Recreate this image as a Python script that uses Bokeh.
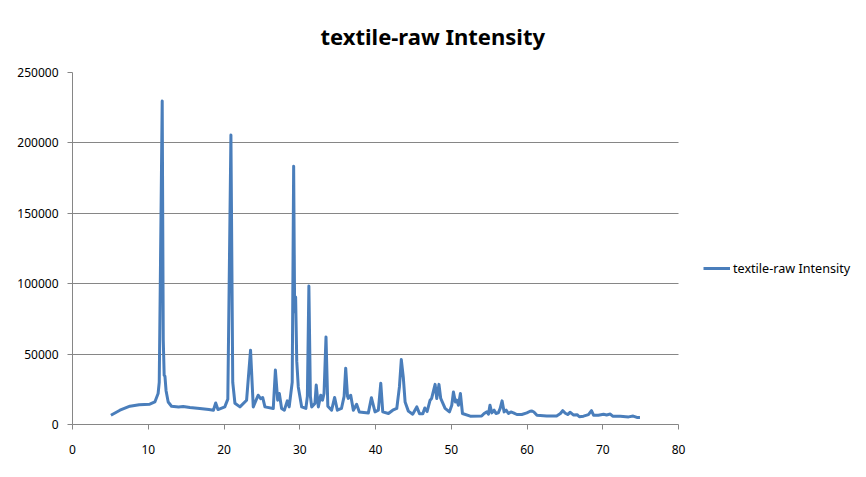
from bokeh.plotting import figure
from bokeh.models import Range1d, FixedTicker, NumeralTickFormatter, Legend, LegendItem
from bokeh.embed import file_html
from bokeh.resources import INLINE

series_name = "textile-raw Intensity"
chart_title = "textile-raw Intensity"

two_theta = [
    5.07, 6.26, 7.58, 8.8, 10.2, 10.87, 11.3, 11.45, 11.84, 11.98, 12.1, 12.2, 12.35, 12.63, 13.07,
    14.0, 14.6, 15.5, 16.8, 18.0, 18.6, 18.9, 19.2, 20.1, 20.5, 20.91, 21.15, 21.44, 22.1, 22.98,
    23.5, 23.86, 24.5, 24.83, 25.1, 25.4, 26.5, 26.78, 27.08, 27.3, 27.6, 27.96, 28.35, 28.6,
    29.0, 29.19, 29.32, 29.45, 29.6, 29.8, 30.25, 30.8, 31.0, 31.2, 31.4, 31.57, 32.0, 32.17,
    32.45, 32.76, 33.0, 33.2, 33.46, 33.7, 34.2, 34.6, 34.96, 35.5, 35.85, 36.06, 36.3, 36.4,
    36.72, 37.07, 37.5, 37.86, 39.05, 39.45, 39.93, 40.37, 40.69, 40.95, 41.7, 42.27, 42.8,
    43.15, 43.4, 43.67, 43.9, 44.33, 44.9, 45.44, 45.8, 46.24, 46.5, 46.8, 47.2, 47.4, 47.86,
    48.08, 48.37, 48.6, 49.18, 49.75, 50.06, 50.28, 50.54, 50.72, 50.94, 51.2, 51.47, 52.5,
    54.0, 54.33, 54.7, 54.9, 55.1, 55.35, 55.65, 55.9, 56.2, 56.45, 56.7, 56.97, 57.24, 57.54,
    57.86, 58.2, 58.65, 59.3, 59.97, 60.4, 60.65, 60.9, 61.3, 62.6, 63.9, 64.4, 64.7, 65.05,
    65.36, 65.7, 66.1, 66.6, 66.9, 67.45, 68.1, 68.5, 68.77, 69.4, 70.1, 70.5, 70.98, 71.3,
    72.3, 73.4, 74.0, 74.5, 74.9,
]
intensity = [
    6600, 10150, 13000, 14000, 14400, 16000, 22000, 30000, 229800, 60000, 35000, 34300, 24000, 16000, 13000,
    12500, 12800, 12000, 11400, 10600, 10150, 15300, 10600, 12500, 18000, 205600, 30000, 15100, 12500, 17250,
    52800, 12500, 20800, 18400, 19200, 12500, 11400, 38700, 17300, 22000, 11400, 10150, 16800, 12500,
    30000, 183400, 80000, 90600, 45000, 26700, 12500, 11400, 20000, 98400, 20000, 12500, 15000, 28000,
    12500, 20800, 17300, 22000, 62200, 13000, 10150, 19200, 10150, 11400, 20000, 40000, 20000, 18500,
    20800, 10150, 14400, 8950, 8250, 19000, 8950, 10150, 29300, 8950, 7800, 10150, 11400,
    26700, 46100, 33000, 16000, 9500, 7300, 12500, 7700, 7700, 11700, 9200, 17300, 18500, 28500,
    18500, 28500, 18500, 11400, 8950, 13700, 23100, 16000, 17300, 13700, 22000, 7800, 5900,
    6000, 7800, 8950, 7300, 13700, 8250, 10150, 7800, 8250, 11400, 16800, 8950, 10150, 7800,
    8950, 8250, 7100, 7100, 8250, 9400, 9600, 8900, 6600, 6100, 6100, 7800, 9800, 8000,
    7100, 8700, 6800, 7000, 5500, 5900, 7000, 9800, 6600, 6600, 7300, 6800, 7400, 5900,
    5900, 5400, 6000, 5000, 5000,
]

x_ticks = [0, 10, 20, 30, 40, 50, 60, 70, 80]
y_ticks = [0, 50000, 100000, 150000, 200000, 250000]
x_lo, x_hi = 0, 80
y_lo, y_hi = 0, 250000

FONT = "Noto Sans"
GRAY = "#868686"

# The frame runs to the right edge so the legend (drawn inside it) is not clipped;
# axis and grid are bounded to 0..80 so the plot area ends at x=80 like the reference.
p = figure(width=866, height=477, output_backend="svg", toolbar_location=None,
           x_range=Range1d(x_lo, 104.8), y_range=Range1d(y_lo, y_hi),
           min_border_left=72, min_border_right=0, min_border_top=72, min_border_bottom=53,
           title=chart_title)
p.outline_line_color = None
p.background_fill_color = "white"
p.border_fill_color = "white"

p.title.text_font = FONT
p.title.text_font_size = "22px"
p.title.text_font_style = "bold"
p.title.text_color = "#000000"
p.title.align = "left"
p.title.offset = 248
p.title.vertical_align = "top"
p.title.text_line_height = 1.08
p.title.standoff = 40

p.xgrid.visible = False
p.ygrid.grid_line_color = GRAY
p.ygrid.grid_line_width = 1
p.ygrid.cross_bounds = (x_lo, x_hi)

for ax in (p.xaxis, p.yaxis):
    ax.axis_line_color = GRAY
    ax.major_tick_line_color = GRAY
    ax.minor_tick_line_color = None
    ax.major_tick_in = 0
    ax.major_tick_out = 5
    ax.major_label_text_font = FONT
    ax.major_label_text_font_size = "12px"
    ax.major_label_text_color = "#000000"

p.xaxis.bounds = (x_lo, x_hi)
p.xaxis.ticker = FixedTicker(ticks=x_ticks)
p.yaxis.ticker = FixedTicker(ticks=y_ticks)
p.yaxis.formatter = NumeralTickFormatter(format="0")
p.xaxis.major_label_standoff = 15
p.yaxis.major_label_standoff = 9

r = p.line(two_theta, intensity, line_color="#4A7EBB", line_width=3, line_join="round")

legend = Legend(items=[LegendItem(label=series_name, renderers=[r])],
                location=(631, 146), padding=0, margin=0,
                border_line_color=None, background_fill_alpha=0,
                glyph_width=27, glyph_height=20, label_standoff=3,
                label_text_font=FONT, label_text_font_size="12.6px",
                label_text_color="#000000")
p.add_layout(legend)

open("out.html", "w").write(file_html(p, INLINE))
